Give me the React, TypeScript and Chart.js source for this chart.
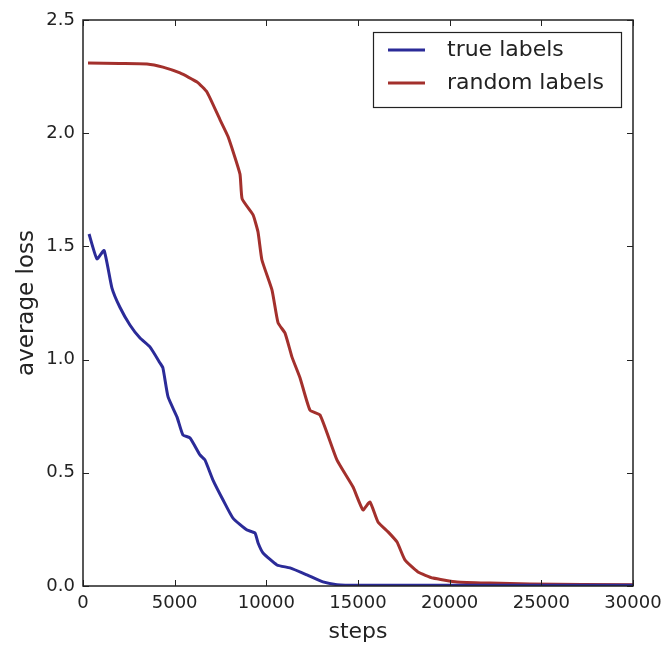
import React, { useEffect, useRef } from "react";
import { Chart, registerables } from "chart.js";

Chart.register(...registerables);

const trueSteps = [330, 760, 1150, 1580, 2020, 2560, 3110, 3650, 4200, 4360, 4640, 5130, 5450, 5840, 6380, 6650, 7090, 7640, 8180, 8950, 9380, 9550, 9820, 10580, 11290, 12220, 13090, 13850, 15000, 20000, 25000, 30000];
const trueLoss = [1.555, 1.445, 1.482, 1.316, 1.23, 1.153, 1.095, 1.056, 0.985, 0.963, 0.835, 0.746, 0.667, 0.654, 0.579, 0.557, 0.468, 0.38, 0.3, 0.247, 0.234, 0.19, 0.146, 0.093, 0.08, 0.049, 0.018, 0.006, 0.003, 0.003, 0.003, 0.003];

const randomSteps = [273, 2000, 3490, 4360, 5290, 6220, 6760, 7470, 7910, 8560, 8680, 9270, 9545, 9760, 10310, 10640, 11020, 11400, 11840, 12380, 12930, 13850, 14730, 15270, 15650, 16090, 16640, 17130, 17560, 18270, 19090, 20400, 22200, 24380, 30000];
const randomLoss = [2.31, 2.308, 2.306, 2.292, 2.266, 2.226, 2.182, 2.06, 1.985, 1.82, 1.71, 1.64, 1.564, 1.44, 1.307, 1.162, 1.117, 1.011, 0.919, 0.777, 0.755, 0.557, 0.437, 0.336, 0.371, 0.283, 0.239, 0.194, 0.115, 0.062, 0.035, 0.018, 0.013, 0.009, 0.005];

const seriesLabels = ["true labels", "random labels"];
const seriesColors = ["#2b2b98", "#a3302c"];

const xTicksStep = 5000;
const yTicksStep = 0.5;

const FONT = "'DejaVu Sans', sans-serif";

const framePlugin = {
  id: "frameTicks",
  afterDatasetsDraw(chart: any) {
    const { ctx, chartArea: a, scales } = chart;
    ctx.save();
    ctx.strokeStyle = "#222";
    ctx.lineWidth = 1;
    const L = 6;
    const line = (x1: number, y1: number, x2: number, y2: number) => {
      ctx.beginPath();
      ctx.moveTo(x1, y1);
      ctx.lineTo(x2, y2);
      ctx.stroke();
    };
    scales.x.ticks.forEach((t: any) => {
      const px = Math.round(scales.x.getPixelForValue(t.value)) + 0.5;
      line(px, a.bottom, px, a.bottom - L);
      line(px, a.top, px, a.top + L);
    });
    scales.y.ticks.forEach((t: any) => {
      const py = Math.round(scales.y.getPixelForValue(t.value)) + 0.5;
      line(a.left, py, a.left + L, py);
      line(a.right, py, a.right - L, py);
    });
    ctx.lineWidth = 1.5;
    ctx.strokeRect(a.left, a.top, a.right - a.left, a.bottom - a.top);
    ctx.restore();
  },
  afterDraw(chart: any) {
    const { ctx, chartArea: a } = chart;
    const w = 248;
    const h = 75;
    const left = a.right - 12 - w;
    const top = a.top + 12;
    ctx.save();
    ctx.fillStyle = "#fff";
    ctx.fillRect(left, top, w, h);
    ctx.strokeStyle = "#222";
    ctx.lineWidth = 1.2;
    ctx.strokeRect(left + 0.5, top + 0.5, w, h);
    chart.data.datasets.forEach((ds: any, i: number) => {
      const cy = top + 18 + i * 33;
      ctx.strokeStyle = ds.borderColor;
      ctx.lineWidth = 3;
      ctx.beginPath();
      ctx.moveTo(left + 15, cy);
      ctx.lineTo(left + 52, cy);
      ctx.stroke();
      ctx.fillStyle = "#222";
      ctx.font = `22px ${FONT}`;
      ctx.textBaseline = "middle";
      ctx.textAlign = "left";
      ctx.fillText(ds.label, left + 74, cy);
    });
    ctx.restore();
  },
};

export default function App() {
  const ref = useRef<HTMLCanvasElement>(null);
  useEffect(() => {
    document.body.style.margin = "0";
    const datasets = [
      { label: seriesLabels[0], data: trueSteps.map((x, i) => ({ x, y: trueLoss[i] })), borderColor: seriesColors[0] },
      { label: seriesLabels[1], data: randomSteps.map((x, i) => ({ x, y: randomLoss[i] })), borderColor: seriesColors[1] },
    ].map((d) => ({ ...d, borderWidth: 3, pointRadius: 0, tension: 0.15, fill: false, backgroundColor: d.borderColor }));
    const chart = new Chart(ref.current!, {
      type: "line",
      data: { datasets },
      plugins: [framePlugin],
      options: {
        responsive: false,
        animation: false,
        layout: { padding: { left: 0, top: 20, right: 33, bottom: 0 } },
        plugins: { legend: { display: false }, tooltip: { enabled: false } },
        scales: {
          x: {
            type: "linear",
            min: 0,
            max: 30000,
            afterFit: (s: any) => { s.height = 59; s.paddingLeft = 0; s.paddingRight = 0; },
            ticks: { stepSize: xTicksStep, color: "#222", font: { family: FONT, size: 18 }, padding: 7, maxRotation: 0, callback: (v: any) => String(v) },
            grid: { display: false, drawTicks: false },
            border: { display: false },
            title: { display: true, text: "steps", color: "#222", font: { family: FONT, size: 22 }, padding: { top: 0, bottom: 0 } },
          },
          y: {
            type: "linear",
            min: 0,
            max: 2.5,
            afterFit: (s: any) => { s.width = 83; s.paddingTop = 0; s.paddingBottom = 0; },
            ticks: { stepSize: yTicksStep, color: "#222", font: { family: FONT, size: 18 }, padding: 8, callback: (v: any) => Number(v).toFixed(1) },
            grid: { display: false, drawTicks: false },
            border: { display: false },
            title: { display: true, text: "average loss", color: "#222", font: { family: FONT, size: 23 }, padding: { top: 13, bottom: 0 } },
          },
        },
      },
    });
    return () => chart.destroy();
  }, []);
  return (
    <div style={{ width: 666, height: 645 }}>
      <canvas ref={ref} width={666} height={645} />
    </div>
  );
}
